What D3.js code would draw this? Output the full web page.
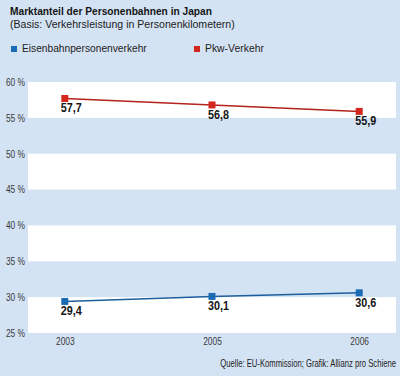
<!DOCTYPE html>
<html>
<head>
<meta charset="utf-8">
<script src="https://cdn.jsdelivr.net/npm/d3@7"></script>
<style>
  body { margin: 0; background: #d4e3f4; }
  svg { display: block; }
  text { font-family: "Liberation Sans", Arial, sans-serif; }
</style>
</head>
<body>
<svg width="400" height="376"></svg>
<script>
// data
var years = ["2003", "2005", "2006"];
var bahn = [29.4, 30.1, 30.6];
var pkw = [57.7, 56.8, 55.9];
var seriesNames = ["Eisenbahnpersonenverkehr", "Pkw-Verkehr"];
var yTicks = [25, 30, 35, 40, 45, 50, 55, 60];

var svg = d3.select("svg"),
    margin = {top: 82, right: 4, bottom: 43, left: 28},
    width = svg.attr("width") - margin.left - margin.right,
    height = svg.attr("height") - margin.top - margin.bottom;

// the original uses a condensed face: squeeze each text horizontally around its anchor
function squeeze(sel, k) {
    sel.each(function () {
        var t = d3.select(this),
            ax = +t.attr("x") || 0;
        t.attr("transform", "translate(" + ax + ",0) scale(" + k + ",1) translate(" + (-ax) + ",0)");
    });
}
function fitTo(sel, w) {
    sel.each(function () {
        squeeze(d3.select(this), w / this.getComputedTextLength());
    });
}

svg.append("rect").attr("width", 400).attr("height", 376).attr("fill", "#d4e3f4");

var g = svg.append("g").attr("transform", "translate(" + margin.left + "," + margin.top + ")");

var x = d3.scalePoint().domain(years).range([0, width]).padding(0.25),
    y = d3.scaleLinear().domain([25, 60]).range([height, 0]);

// white bands
var bands = [[55, 60], [45, 50], [35, 40], [25, 30]];
g.selectAll(".band").data(bands).enter().append("rect")
    .attr("x", 0).attr("width", width)
    .attr("y", function (d) { return y(d[1]); })
    .attr("height", function (d) { return y(d[0]) - y(d[1]); })
    .attr("fill", "#fff");

// y axis labels
var yAxis = g.append("g").call(d3.axisLeft(y).tickValues(yTicks).tickSize(0).tickPadding(3)
    .tickFormat(function (d) { return d + " %"; }));
yAxis.select(".domain").remove();
yAxis.selectAll("text").attr("font-size", 10.5).attr("fill", "#3a3a3a")
    .style("font-family", "'Liberation Sans', Arial, sans-serif");
squeeze(yAxis.selectAll("text"), 0.8);

// x axis labels
var xAxis = g.append("g").attr("transform", "translate(0," + height + ")")
    .call(d3.axisBottom(x).tickSize(0).tickPadding(5));
xAxis.select(".domain").remove();
xAxis.selectAll("text").attr("font-size", 10.5).attr("fill", "#3a3a3a")
    .style("font-family", "'Liberation Sans', Arial, sans-serif");
squeeze(xAxis.selectAll("text"), 0.8);

var line = d3.line()
    .x(function (d, i) { return x(years[i]); })
    .y(function (d) { return y(d); });

var series = [
    {name: seriesNames[0], values: bahn, color: "#1b6bb4", line: "#1d5e9c"},
    {name: seriesNames[1], values: pkw, color: "#d3261d", line: "#b3231c"}
];

series.forEach(function (s) {
    g.append("path").attr("d", line(s.values))
        .attr("fill", "none").attr("stroke", s.line).attr("stroke-width", 1.5);
    g.selectAll(null).data(s.values).enter().append("rect")
        .attr("x", function (d, i) { return x(years[i]) - 3.5; })
        .attr("y", function (d) { return y(d) - 3.5; })
        .attr("width", 7).attr("height", 7)
        .attr("fill", s.color);
    var lab = g.selectAll(null).data(s.values).enter().append("text")
        .attr("x", function (d, i) { return x(years[i]) - 4; })
        .attr("y", function (d) { return y(d) + 14; })
        .attr("font-size", 12).attr("font-weight", "bold").attr("fill", "#151515")
        .text(function (d) { return d.toFixed(1).replace(".", ","); });
    fitTo(lab, 21);
});

// title
fitTo(svg.append("text").attr("x", 10).attr("y", 15)
    .attr("font-size", 11.5).attr("font-weight", "bold").attr("fill", "#151515")
    .text("Marktanteil der Personenbahnen in Japan"), 202);
fitTo(svg.append("text").attr("x", 10).attr("y", 28.5)
    .attr("font-size", 11.5).attr("fill", "#222")
    .text("(Basis: Verkehrsleistung in Personenkilometern)"), 225);

// legend
var legX = [10, 193], legW = [125, 59];
series.forEach(function (s, i) {
    svg.append("rect").attr("x", legX[i] + 1).attr("y", 46).attr("width", 6).attr("height", 6).attr("fill", s.color);
    fitTo(svg.append("text").attr("x", legX[i] + 12).attr("y", 52.3)
        .attr("font-size", 11.5).attr("fill", "#222").text(s.name), legW[i]);
});

// source
fitTo(svg.append("text").attr("x", 396).attr("y", 367.5).attr("text-anchor", "end")
    .attr("font-size", 10).attr("fill", "#222")
    .text("Quelle: EU-Kommission; Grafik: Allianz pro Schiene"), 176);
</script>
</body>
</html>
